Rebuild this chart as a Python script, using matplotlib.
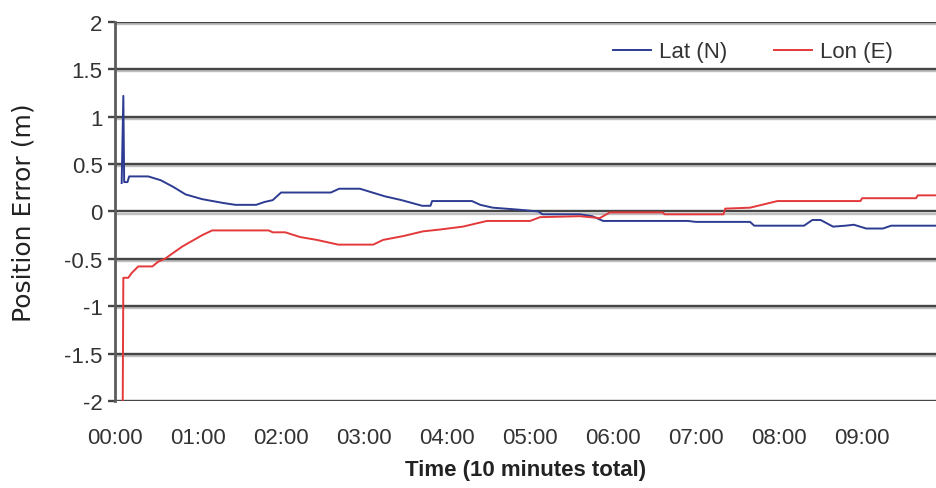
"""Position error of a fixed receiver over a ten minute log."""

import matplotlib

matplotlib.use("Agg")
import matplotlib.patheffects as pe
import matplotlib.pyplot as plt
import numpy as np

lat_time = [0.08, 0.10, 0.11, 0.15, 0.17, 0.40, 0.55, 0.70, 0.85, 1.05, 1.30,
            1.45, 1.70, 1.80, 1.90, 2.00, 2.60, 2.70, 2.95, 3.10, 3.25, 3.45,
            3.70, 3.80, 3.82, 4.30, 4.40, 4.55, 4.85, 5.10, 5.15, 5.60, 5.75,
            5.88, 6.90, 7.00, 7.65, 7.70, 8.30, 8.40, 8.50, 8.65, 8.80, 8.90,
            9.05, 9.25, 9.35, 9.90]
lat_error = [0.30, 1.22, 0.31, 0.31, 0.37, 0.37, 0.33, 0.26, 0.18, 0.13, 0.09,
             0.07, 0.07, 0.10, 0.12, 0.20, 0.20, 0.24, 0.24, 0.20, 0.16, 0.12,
             0.06, 0.06, 0.11, 0.11, 0.07, 0.04, 0.02, 0.00, -0.03, -0.03, -0.05,
             -0.10, -0.10, -0.11, -0.11, -0.15, -0.15, -0.09, -0.09, -0.16, -0.15,
             -0.14, -0.18, -0.18, -0.15, -0.15]

lon_time = [0.06, 0.09, 0.10, 0.16, 0.20, 0.28, 0.45, 0.52, 0.60, 0.81, 1.05,
            1.17, 1.85, 1.90, 2.05, 2.23, 2.43, 2.69, 3.11, 3.23, 3.47, 3.71,
            3.92, 4.19, 4.48, 5.00, 5.12, 5.60, 5.84, 5.96, 6.60, 6.62, 7.33,
            7.35, 7.65, 7.98, 8.98, 9.00, 9.65, 9.67, 9.90]
lon_error = [-2.50, -2.50, -0.70, -0.70, -0.65, -0.58, -0.58, -0.53, -0.50,
             -0.37, -0.25, -0.20, -0.20, -0.22, -0.22, -0.27, -0.30, -0.35,
             -0.35, -0.30, -0.26, -0.21, -0.19, -0.16, -0.10, -0.10, -0.06,
             -0.05, -0.07, -0.01, -0.01, -0.03, -0.03, 0.03, 0.04, 0.11, 0.11,
             0.14, 0.14, 0.17, 0.17]

tick_minutes = np.arange(10)
tick_labels = [f"{m:02d}:00" for m in tick_minutes]
y_ticks = [-2, -1.5, -1, -0.5, 0, 0.5, 1, 1.5, 2]
y_labels = ["-2", "-1.5", "-1", "-0.5", "0", "0.5", "1", "1.5", "2"]

plt.rcParams["font.family"] = ["Liberation Sans", "DejaVu Sans"]

fig = plt.figure(figsize=(9.36, 4.89), dpi=100)
ax = fig.add_axes([0.1229, 0.178, 0.8771, 0.775])

grid_color = "#454545"
shadow = [pe.SimpleLineShadow(offset=(0, -1.5), shadow_color="#b0b0b0", alpha=0.8),
          pe.Normal()]
for y in y_ticks:
    ax.axhline(y, color=grid_color, lw=1.7, zorder=1, path_effects=shadow)

ax.plot(lat_time, lat_error, color="#2d3c92", lw=1.4, label="Lat (N)", zorder=3)
ax.plot(lon_time, lon_error, color="#e4393a", lw=1.4, label="Lon (E)", zorder=3)

ax.set_xlim(0, 9.89)
ax.set_ylim(-2, 2)
ax.set_xticks(tick_minutes)
ax.set_xticklabels(tick_labels)
ax.set_yticks(y_ticks)
ax.set_yticklabels(y_labels)

for side in ("top", "right", "bottom"):
    ax.spines[side].set_visible(False)
ax.spines["left"].set_color("#5c5c5c")
ax.spines["left"].set_linewidth(2.0)
ax.spines["left"].set_zorder(4)

ax.tick_params(axis="y", length=5, width=1.7, color=grid_color, pad=4,
               labelsize=16, labelcolor="#333333")
ax.tick_params(axis="x", length=0, pad=19, labelsize=16, labelcolor="#333333")

ax.set_xlabel("Time (10 minutes total)", fontsize=16, fontweight="bold",
              color="#222222", labelpad=8)
ax.set_ylabel("Position Error (m)", fontsize=18, color="#222222",
              family="DejaVu Sans")
ax.yaxis.set_label_coords(-0.097, 0.5)

ax.legend(loc="center", bbox_to_anchor=(0.777, 0.921), ncol=2, frameon=False,
          fontsize=16, handlelength=1.7, handletextpad=0.36, columnspacing=2.1,
          labelcolor="#333333")

fig.savefig("out.png", dpi=100, facecolor="white")
